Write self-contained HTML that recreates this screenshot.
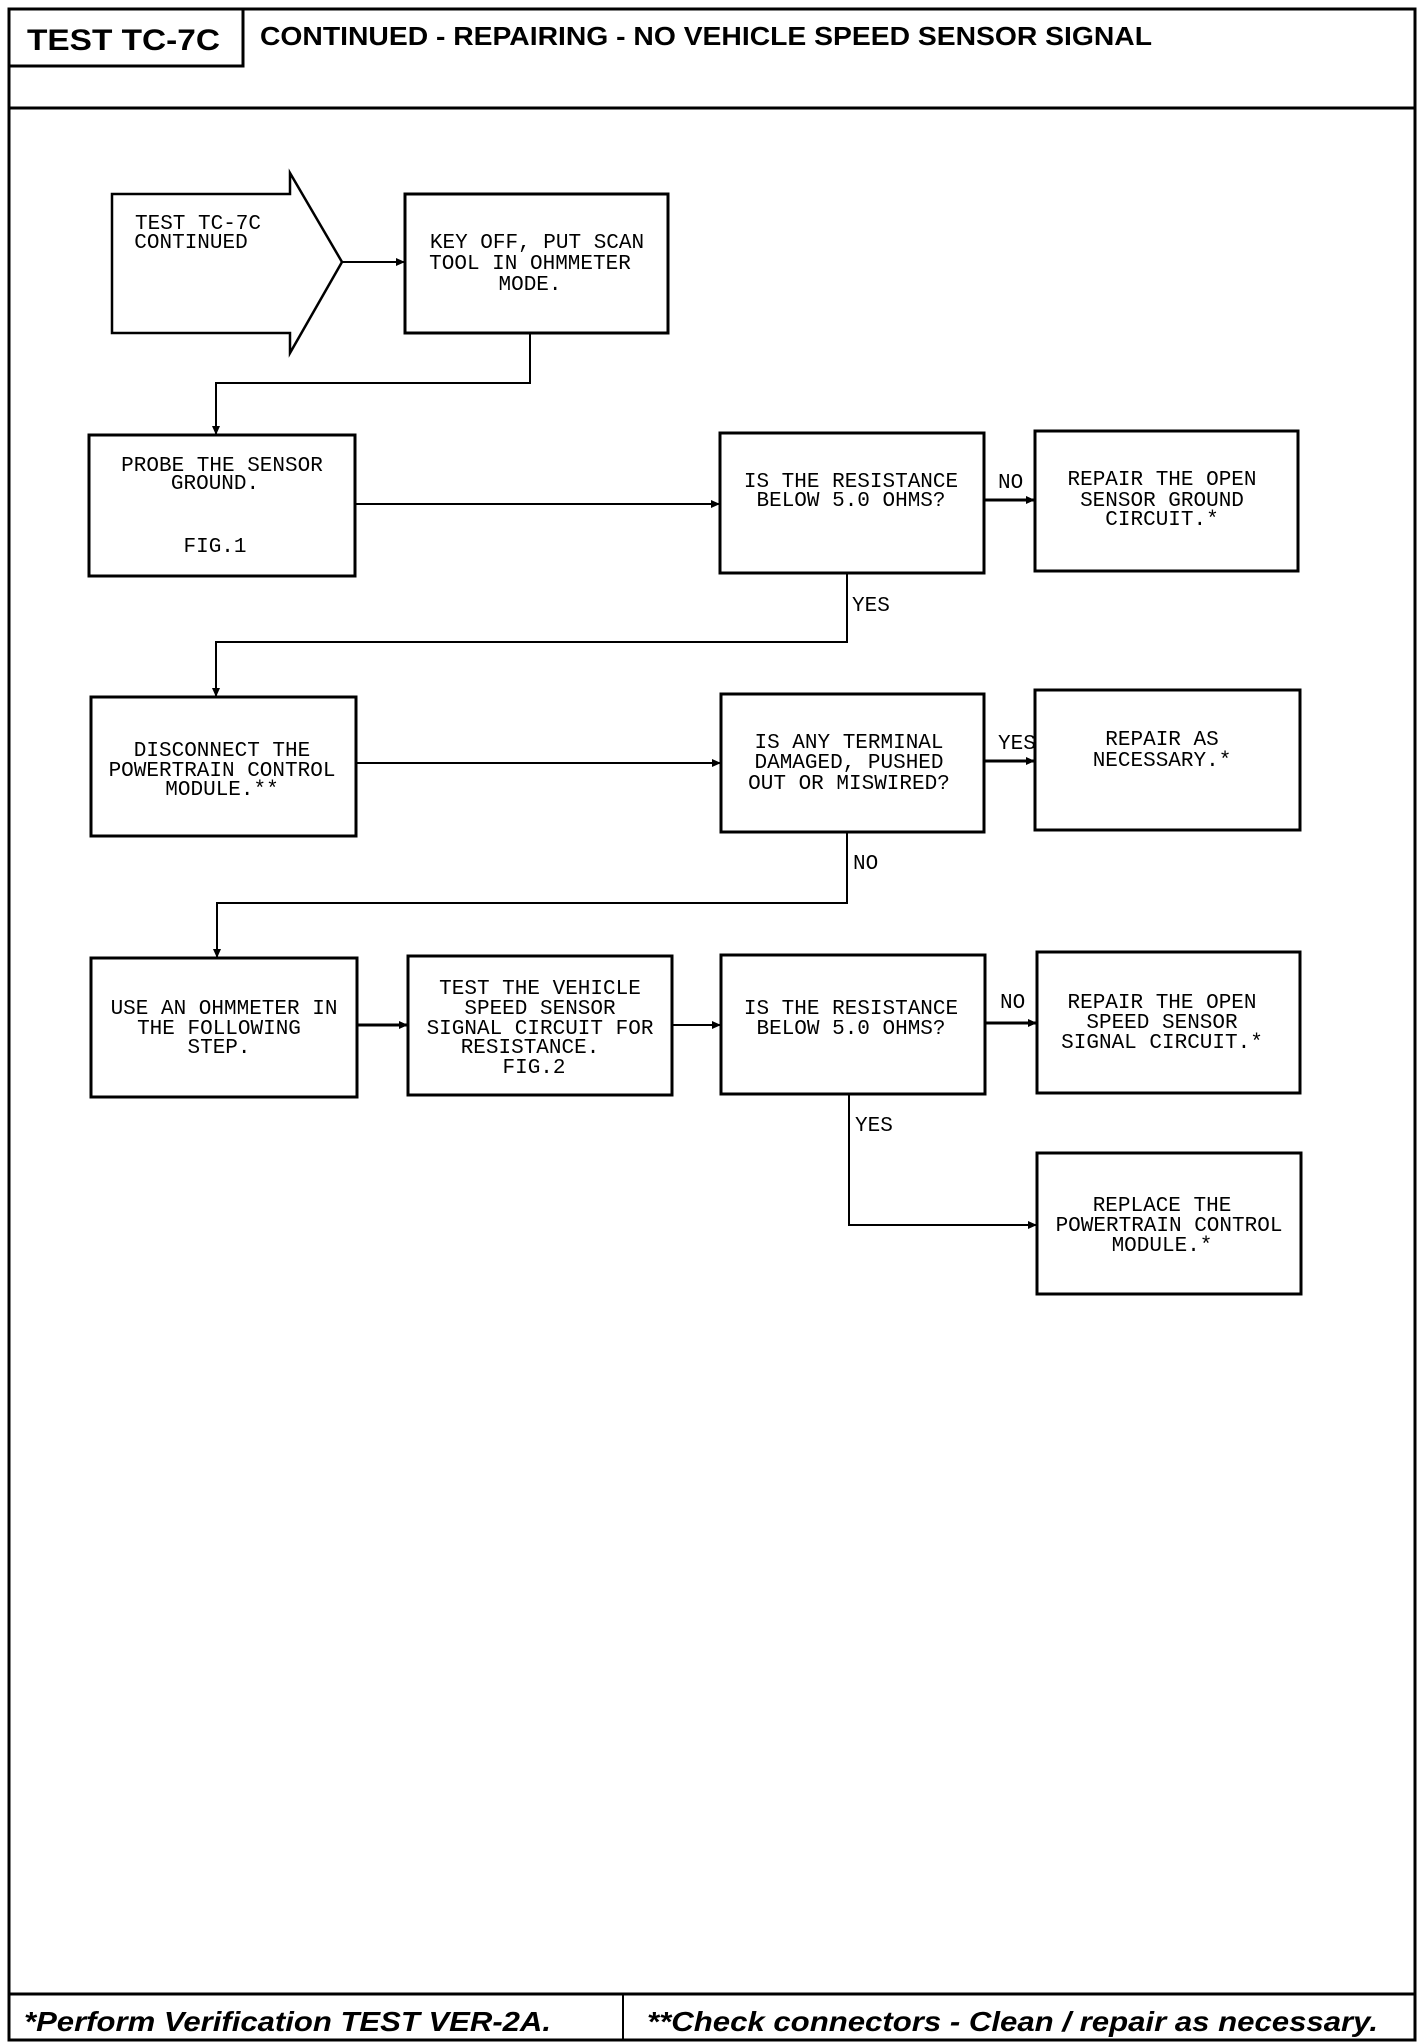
<!DOCTYPE html>
<html><head><meta charset="utf-8"><style>
html,body{margin:0;padding:0;background:#fff;}
svg{display:block;}
.t{font-family:"Liberation Mono",monospace;font-size:21px;fill:#000;}
.h{font-family:"Liberation Sans",sans-serif;font-weight:bold;fill:#000;}
</style></head><body>
<svg width="1424" height="2044" viewBox="0 0 1424 2044" xmlns="http://www.w3.org/2000/svg">
<defs><marker id="a" markerWidth="10" markerHeight="10" refX="9" refY="5" orient="auto" markerUnits="userSpaceOnUse"><path d="M0,1 L9,5 L0,9 Z" fill="#000"/></marker></defs>
<g fill="none" stroke="#000">
<rect x="9" y="9" width="1406" height="2031" stroke-width="3"/>
<rect x="9" y="9" width="234" height="57" stroke-width="3"/>
<line x1="9" y1="108" x2="1415" y2="108" stroke-width="3"/>
<line x1="9" y1="1994" x2="1415" y2="1994" stroke-width="3"/>
<line x1="623" y1="1994" x2="623" y2="2040" stroke-width="2"/>
<path d="M112,194 L290,194 L290,173 L342,262 L290,353 L290,333 L112,333 Z" stroke-width="2.5"/>
<g stroke-width="3">
<rect x="405" y="194" width="263" height="139"/>
<rect x="89" y="435" width="266" height="141"/>
<rect x="720" y="433" width="264" height="140"/>
<rect x="1035" y="431" width="263" height="140"/>
<rect x="91" y="697" width="265" height="139"/>
<rect x="721" y="694" width="263" height="138"/>
<rect x="1035" y="690" width="265" height="140"/>
<rect x="91" y="958" width="266" height="139"/>
<rect x="408" y="956" width="264" height="139"/>
<rect x="721" y="955" width="264" height="139"/>
<rect x="1037" y="952" width="263" height="141"/>
<rect x="1037" y="1153" width="264" height="141"/>
</g>
<g stroke-width="2">
<line x1="342" y1="262" x2="405" y2="262" marker-end="url(#a)"/>
<polyline points="530,333 530,383 216,383 216,435" marker-end="url(#a)"/>
<line x1="355" y1="504" x2="720" y2="504" marker-end="url(#a)"/>
<line x1="984" y1="500" x2="1035" y2="500" stroke-width="3" marker-end="url(#a)"/>
<polyline points="847,573 847,642 216,642 216,697" marker-end="url(#a)"/>
<line x1="356" y1="763" x2="721" y2="763" marker-end="url(#a)"/>
<line x1="984" y1="761" x2="1035" y2="761" stroke-width="3" marker-end="url(#a)"/>
<polyline points="847,832 847,903 217,903 217,958" marker-end="url(#a)"/>
<line x1="357" y1="1025" x2="408" y2="1025" stroke-width="3" marker-end="url(#a)"/>
<line x1="672" y1="1025" x2="721" y2="1025" marker-end="url(#a)"/>
<line x1="985" y1="1023" x2="1037" y2="1023" stroke-width="3" marker-end="url(#a)"/>
<polyline points="849,1094 849,1225 1037,1225" marker-end="url(#a)"/>
</g>
</g>
<text class="h" x="27" y="50" font-size="30" textLength="193" lengthAdjust="spacingAndGlyphs">TEST TC-7C</text>
<text class="h" x="260" y="45" font-size="26" textLength="892" lengthAdjust="spacingAndGlyphs">CONTINUED - REPAIRING - NO VEHICLE SPEED SENSOR SIGNAL</text>
<text class="h" x="24" y="2031" font-size="28" font-style="italic" textLength="527" lengthAdjust="spacingAndGlyphs">*Perform Verification TEST VER-2A.</text>
<text class="h" x="647" y="2031" font-size="28" font-style="italic" textLength="731" lengthAdjust="spacingAndGlyphs">**Check connectors - Clean / repair as necessary.</text>
<g class="t" text-anchor="middle">
<text x="198" y="229">TEST TC-7C</text>
<text x="191" y="248">CONTINUED</text>
<text x="537" y="248">KEY OFF, PUT SCAN</text>
<text x="530" y="269">TOOL IN OHMMETER</text>
<text x="530" y="290">MODE.</text>
<text x="222" y="471">PROBE THE SENSOR</text>
<text x="215" y="489">GROUND.</text>
<text x="215" y="552">FIG.1</text>
<text x="851" y="487">IS THE RESISTANCE</text>
<text x="851" y="506">BELOW 5.0 OHMS?</text>
<text x="1162" y="485">REPAIR THE OPEN</text>
<text x="1162" y="506">SENSOR GROUND</text>
<text x="1162" y="525">CIRCUIT.*</text>
<text x="222" y="756">DISCONNECT THE</text>
<text x="222" y="776">POWERTRAIN CONTROL</text>
<text x="222" y="795">MODULE.**</text>
<text x="849" y="748">IS ANY TERMINAL</text>
<text x="849" y="768">DAMAGED, PUSHED</text>
<text x="849" y="789">OUT OR MISWIRED?</text>
<text x="1162" y="745">REPAIR AS</text>
<text x="1162" y="766">NECESSARY.*</text>
<text x="224" y="1014">USE AN OHMMETER IN</text>
<text x="219" y="1034">THE FOLLOWING</text>
<text x="219" y="1053">STEP.</text>
<text x="540" y="994">TEST THE VEHICLE</text>
<text x="540" y="1014">SPEED SENSOR</text>
<text x="540" y="1034">SIGNAL CIRCUIT FOR</text>
<text x="530" y="1053">RESISTANCE.</text>
<text x="534" y="1073">FIG.2</text>
<text x="851" y="1014">IS THE RESISTANCE</text>
<text x="851" y="1034">BELOW 5.0 OHMS?</text>
<text x="1162" y="1008">REPAIR THE OPEN</text>
<text x="1162" y="1028">SPEED SENSOR</text>
<text x="1162" y="1048">SIGNAL CIRCUIT.*</text>
<text x="1162" y="1211">REPLACE THE</text>
<text x="1169" y="1231">POWERTRAIN CONTROL</text>
<text x="1162" y="1251">MODULE.*</text>
</g>
<g class="t">
<text x="998" y="488">NO</text>
<text x="852" y="611">YES</text>
<text x="998" y="749">YES</text>
<text x="853" y="869">NO</text>
<text x="1000" y="1008">NO</text>
<text x="855" y="1131">YES</text>
</g>
</svg>
</body></html>
